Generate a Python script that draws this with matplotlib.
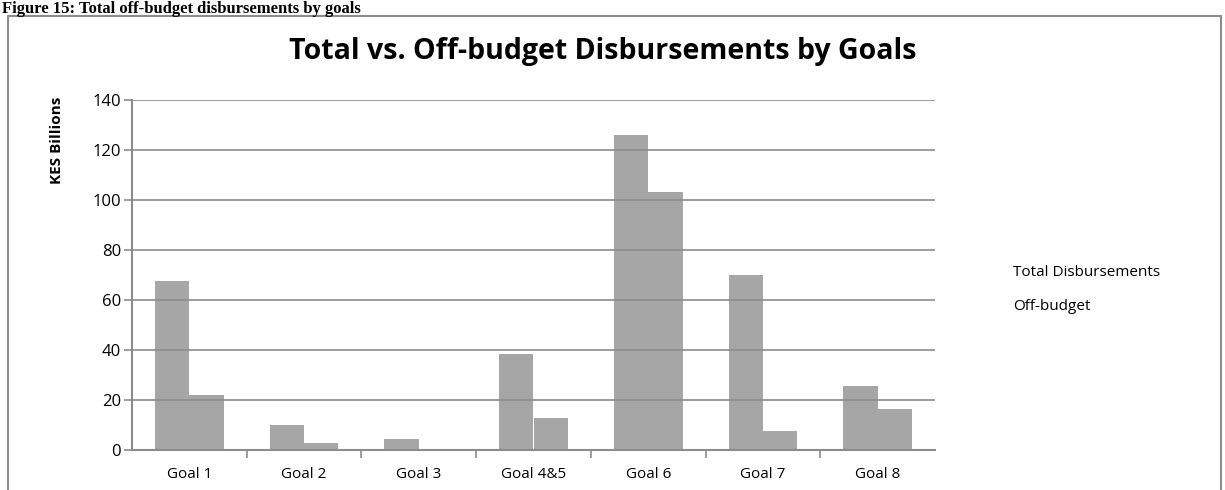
import matplotlib.pyplot as plt
import numpy as np

goals = ["Goal 1", "Goal 2", "Goal 3", "Goal 4&5", "Goal 6", "Goal 7", "Goal 8"]
total_disb = [67.5, 10, 4.5, 38.5, 126, 70, 25.5]
off_budget = [22, 3, 0.3, 13, 103, 7.5, 16.5]

bar_color = "#a6a6a6"
grid_color = "#8c8c8c"

fig = plt.figure(figsize=(12.25, 4.9), dpi=100)
ax = fig.add_axes([132 / 1225, 40 / 490, 803 / 1225, 350 / 490])

x = np.arange(len(goals))
w = 0.3
ax.bar(x - w / 2, total_disb, w, color=bar_color, linewidth=0, zorder=1)
ax.bar(x + w / 2, off_budget, w, color=bar_color, linewidth=0, zorder=1)

ax.set_xlim(-0.5, len(goals) - 0.5)
ax.set_ylim(0, 140)
ax.set_yticks(range(0, 141, 20))
ax.set_yticklabels([str(v) for v in range(0, 141, 20)], fontsize=12, family="Open Sans")
ax.set_axisbelow(False)
ax.yaxis.grid(True, color=grid_color, linewidth=1.2, zorder=2)
ax.set_xticks(x)
ax.set_xticklabels(goals, fontsize=11, family="Open Sans")
ax.set_xticks(np.arange(0.5, len(goals) - 1, 1), minor=True)
ax.tick_params(axis="x", which="major", length=0, pad=12)
ax.tick_params(axis="x", which="minor", length=6, color=grid_color, width=1.2)
ax.tick_params(axis="y", length=6, color=grid_color, width=1.2, pad=2)
for s in ["top", "right"]:
    ax.spines[s].set_visible(False)
for s in ["left", "bottom"]:
    ax.spines[s].set_color(grid_color)
    ax.spines[s].set_linewidth(1.5)
    ax.spines[s].set_zorder(3)

fig.text(57 / 1225, 1 - 97 / 490, "KES Billions", rotation=90, ha="center", va="top",
         fontsize=11, fontweight="bold", family="Open Sans")
fig.text(603 / 1225, 1 - 51 / 490, "Total vs. Off-budget Disbursements by Goals",
         ha="center", va="center", fontsize=20.5, fontweight="bold", family="Open Sans")
fig.text(1013 / 1225, 1 - 272 / 490, "Total Disbursements", ha="left", va="center",
         fontsize=11, family="Open Sans")
fig.text(1013 / 1225, 1 - 307 / 490, "Off-budget", ha="left", va="center",
         fontsize=11, family="Open Sans")

# caption above the chart frame
fig.text(2 / 1225, 1 - 1 / 490, "Figure 15: Total off-budget disbursements by goals", ha="left",
         va="top", fontsize=12, fontweight="bold", family="Liberation Serif")

frame = plt.Rectangle((8 / 1225, -0.1), 1213 / 1225, 1.1 - 16 / 490, transform=fig.transFigure,
                      fill=False, edgecolor="#8c8c8c", linewidth=1.5)
fig.add_artist(frame)

fig.savefig("out.png", dpi=100)
